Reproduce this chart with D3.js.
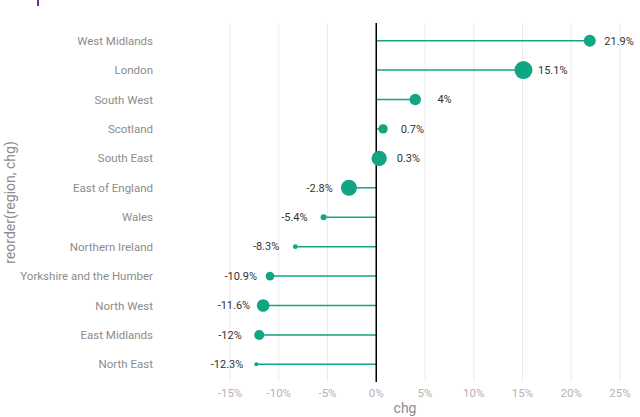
<!DOCTYPE html>
<html><head><meta charset="utf-8">
<script src="https://cdn.jsdelivr.net/npm/d3@7"></script>
<style>body{margin:0;background:#fff}svg{display:block}text{font-family:Roboto,"Noto Sans",sans-serif}</style>
</head><body>
<svg id="c" width="640" height="417"></svg>
<script>
const regions = ["West Midlands","London","South West","Scotland","South East","East of England","Wales","Northern Ireland","Yorkshire and the Humber","North West","East Midlands","North East"];
const chg = [21.9,15.1,4,0.7,0.3,-2.8,-5.4,-8.3,-10.9,-11.6,-12,-12.3];
const weight = [36,81,33,22,59,64,9,6,19,40,25,4];
const xTicks = [-15,-10,-5,0,5,10,15,20,25];

const svg = d3.select("#c");
const pTop = 23, pBottom = 382;
const x = d3.scaleLinear().domain([-15,25]).range([230,620]);
const y = d3.scalePoint().domain(regions).range([pTop,pBottom]).padding(0.6);
const r = d3.scaleSqrt().domain([0,d3.max(weight)]).range([0,9]);
const col = "#12a583";
const data = regions.map((d,i)=>({region:d,chg:chg[i],w:weight[i]}));

// purple fragment at top
svg.append("rect").attr("x",37).attr("y",0).attr("width",2).attr("height",6).attr("fill","#6a2c91");

// gridlines
svg.append("g").selectAll("line").data(xTicks).join("line")
  .attr("x1",d=>x(d)).attr("x2",d=>x(d)).attr("y1",pTop).attr("y2",pBottom)
  .attr("stroke","#ebebeb").attr("stroke-width",1);

// x tick labels
svg.append("g").selectAll("text").data(xTicks).join("text")
  .attr("x",d=>x(d)).attr("y",397).attr("text-anchor","middle")
  .attr("font-size",11.5).attr("fill","#b3b3b3").text(d=>d+"%");

// y category labels
svg.append("g").selectAll("text").data(regions).join("text")
  .attr("x",153).attr("y",d=>y(d)).attr("dy","0.35em").attr("text-anchor","end")
  .attr("font-size",11.5).attr("fill","#8c8c8c").text(d=>d);

// segments
svg.append("g").selectAll("line").data(data).join("line")
  .attr("x1",x(0)).attr("x2",d=>x(d.chg)).attr("y1",d=>y(d.region)).attr("y2",d=>y(d.region))
  .attr("stroke",col).attr("stroke-width",1.5);

// zero line
svg.append("line").attr("x1",x(0)).attr("x2",x(0)).attr("y1",pTop).attr("y2",pBottom)
  .attr("stroke","#000").attr("stroke-width",1.5);

// points
svg.append("g").selectAll("circle").data(data).join("circle")
  .attr("cx",d=>x(d.chg)).attr("cy",d=>y(d.region)).attr("r",d=>r(d.w)).attr("fill",col);

// value labels
svg.append("g").selectAll("text").data(data).join("text")
  .attr("x",d=>x(d.chg + (d.chg>=0?3:-3))).attr("y",d=>y(d.region)).attr("dy","0.35em")
  .attr("text-anchor","middle").attr("font-size",11).attr("fill","#333")
  .text(d=>d.chg+"%");

// axis titles
svg.append("text").attr("x",405).attr("y",413).attr("text-anchor","middle")
  .attr("font-size",14).attr("fill","#8c8c8c").text("chg");
svg.append("text").attr("transform",`translate(15,${(pTop+pBottom)/2}) rotate(-90)`)
  .attr("text-anchor","middle").attr("font-size",14).attr("fill","#8c8c8c").text("reorder(region, chg)");
</script>
</body></html>
